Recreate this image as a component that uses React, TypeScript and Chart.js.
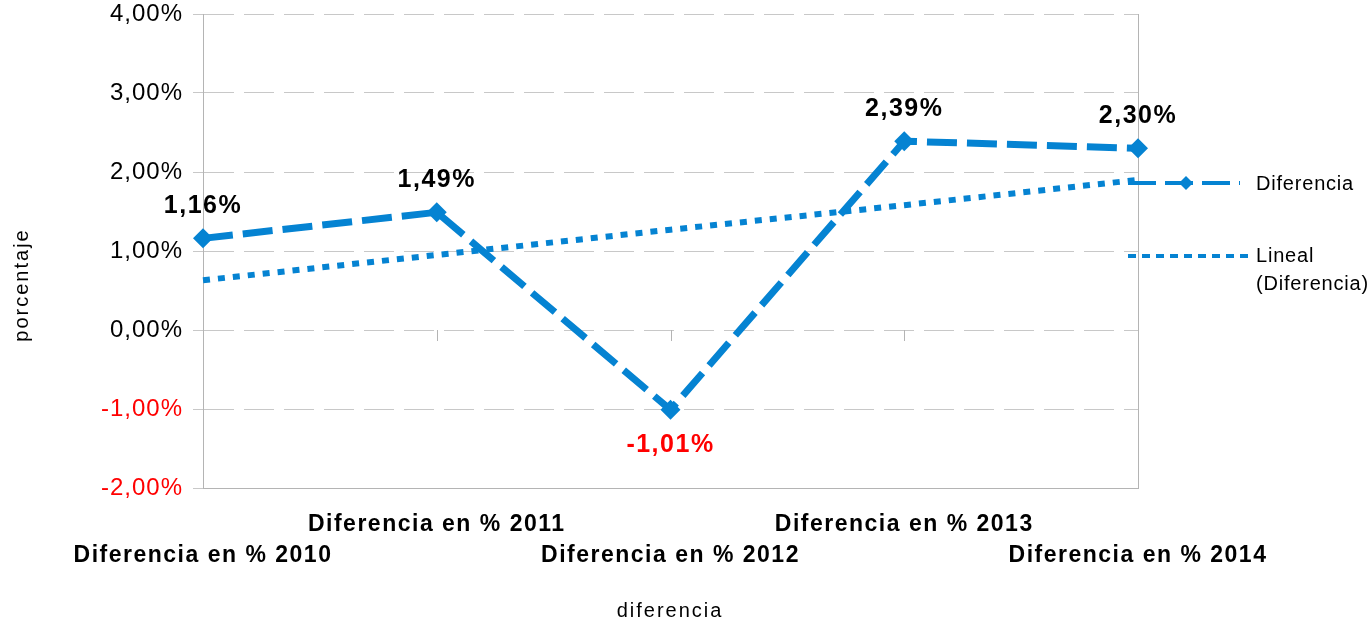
import React, { useEffect, useRef } from 'react';
import { Chart, registerables } from 'chart.js';

Chart.register(...registerables);

const categories = [
  'Diferencia en % 2010',
  'Diferencia en % 2011',
  'Diferencia en % 2012',
  'Diferencia en % 2013',
  'Diferencia en % 2014',
];
const diferencia = [1.16, 1.49, -1.01, 2.39, 2.3];
const lineal = [0.63, 0.95, 1.27, 1.58, 1.9];
const yMin = -2;
const yMax = 4;
const yStep = 1;
const legendLabels = ['Diferencia', 'Lineal', '(Diferencia)'];
const xTitle = 'diferencia';
const yTitle = 'porcentaje';

const BLUE = '#0583d2';
const GRID = '#c8c8c8';
const AXIS = '#b4b4b4';
const FONT = '"Liberation Sans", Arial, sans-serif';

const fmt = (v: number) => v.toFixed(2).replace('.', ',') + '%';

const drawPlugin = {
  id: 'customDraw',
  beforeUpdate(chart: any) {
    (chart.ctx as any).letterSpacing = '1px';
  },
  beforeDraw(chart: any) {
    (chart.ctx as any).letterSpacing = '1px';
  },
  beforeDatasetsDraw(chart: any) {
    const ctx = chart.ctx;
    const x = chart.scales.x;
    const y = chart.scales.y;
    const area = chart.chartArea;
    ctx.save();
    ctx.strokeStyle = AXIS;
    ctx.lineWidth = 1;
    ctx.beginPath();
    ctx.moveTo(area.right + 0.5, area.top);
    ctx.lineTo(area.right + 0.5, area.bottom);
    ctx.stroke();
    const y0 = Math.round(y.getPixelForValue(0));
    for (let i = 1; i < categories.length; i++) {
      const px = Math.round(x.getPixelForValue(i)) + 0.5;
      ctx.beginPath();
      ctx.moveTo(px, y0);
      ctx.lineTo(px, y0 + 11);
      ctx.stroke();
    }
    ctx.restore();
  },
  afterDatasetsDraw(chart: any) {
    const ctx = chart.ctx;
    const x = chart.scales.x;
    const meta = chart.getDatasetMeta(0);
    ctx.save();
    ctx.font = `bold 25px ${FONT}`;
    (ctx as any).letterSpacing = '1.5px';
    ctx.textAlign = 'center';
    ctx.textBaseline = 'middle';
    meta.data.forEach((pt: any, i: number) => {
      const v = diferencia[i];
      ctx.fillStyle = v < 0 ? '#ff0000' : '#000000';
      ctx.fillText(fmt(v), pt.x, v < 0 ? pt.y + 35 : pt.y - 32);
    });
    ctx.font = `bold 23px ${FONT}`;
    (ctx as any).letterSpacing = '1.5px';
    ctx.fillStyle = '#000000';
    categories.forEach((c, i) => {
      const px = x.getPixelForValue(i);
      ctx.fillText(c, px, i % 2 === 0 ? 556 : 525);
    });
    ctx.font = `20px ${FONT}`;
    (ctx as any).letterSpacing = '2px';
    ctx.fillText(xTitle, 670, 611);
    ctx.save();
    ctx.translate(22, 285);
    ctx.rotate(-Math.PI / 2);
    ctx.fillText(yTitle, 0, 0);
    ctx.restore();
    ctx.strokeStyle = BLUE;
    ctx.fillStyle = BLUE;
    ctx.lineWidth = 4;
    ctx.setLineDash([28, 9]);
    ctx.beginPath();
    ctx.moveTo(1128, 183);
    ctx.lineTo(1240, 183);
    ctx.stroke();
    ctx.setLineDash([]);
    ctx.beginPath();
    ctx.moveTo(1186, 176);
    ctx.lineTo(1193, 183);
    ctx.lineTo(1186, 190);
    ctx.lineTo(1179, 183);
    ctx.closePath();
    ctx.fill();
    ctx.setLineDash([8, 6]);
    ctx.beginPath();
    ctx.moveTo(1128, 256);
    ctx.lineTo(1248, 256);
    ctx.stroke();
    ctx.setLineDash([]);
    ctx.fillStyle = '#000000';
    ctx.textAlign = 'left';
    ctx.font = `20px ${FONT}`;
    (ctx as any).letterSpacing = '0.8px';
    ctx.fillText(legendLabels[0], 1256, 184);
    ctx.fillText(legendLabels[1], 1256, 256);
    ctx.fillText(legendLabels[2], 1256, 284);
    ctx.restore();
  },
};

export default function App() {
  const ref = useRef<HTMLCanvasElement | null>(null);
  useEffect(() => {
    if (!ref.current) return;
    const chart = new Chart(ref.current, {
      type: 'line',
      data: {
        labels: categories,
        datasets: [
          {
            label: legendLabels[0],
            data: diferencia,
            borderColor: BLUE,
            backgroundColor: BLUE,
            borderWidth: 7,
            borderDash: [30, 10],
            borderCapStyle: 'butt',
            tension: 0,
            pointStyle: 'rectRot',
            pointRadius: 10,
            pointBorderWidth: 0,
            pointBackgroundColor: BLUE,
          },
          {
            label: legendLabels[1] + ' ' + legendLabels[2],
            data: lineal,
            borderColor: BLUE,
            borderWidth: 6,
            borderDash: [7, 8],
            borderCapStyle: 'butt',
            tension: 0,
            pointRadius: 0,
          },
        ],
      },
      options: {
        responsive: false,
        animation: false,
        layout: { padding: { top: 14, right: 234, left: 0, bottom: 0 } },
        plugins: {
          legend: { display: false },
          tooltip: { enabled: false },
          title: { display: false },
        },
        scales: {
          x: {
            offset: false,
            grid: { display: false },
            border: { display: true, color: AXIS, width: 1 },
            ticks: { display: false },
            afterFit: (s: any) => {
              s.height = 138;
              s.paddingLeft = 0;
              s.paddingRight = 0;
            },
          },
          y: {
            min: yMin,
            max: yMax,
            ticks: {
              stepSize: yStep,
              callback: (v: any) => fmt(Number(v)),
              color: (c: any) => (c.tick && c.tick.value < 0 ? '#ff0000' : '#000000'),
              font: { family: FONT, size: 24 },
              padding: 10,
            },
            grid: {
              color: GRID,
              lineWidth: 1,
              tickLength: 10,
              tickColor: GRID,
            },
            border: { display: true, color: AXIS, width: 1, dash: [30, 10] },
            afterFit: (s: any) => {
              s.width = 203;
              s.paddingTop = 0;
              s.paddingBottom = 0;
            },
          },
        },
      },
      plugins: [drawPlugin],
    } as any);
    return () => chart.destroy();
  }, []);
  return (
    <div style={{ position: 'absolute', left: 0, top: 0, width: 1372, height: 626, background: '#fff' }}>
      <canvas ref={ref} width={1372} height={626} />
    </div>
  );
}
